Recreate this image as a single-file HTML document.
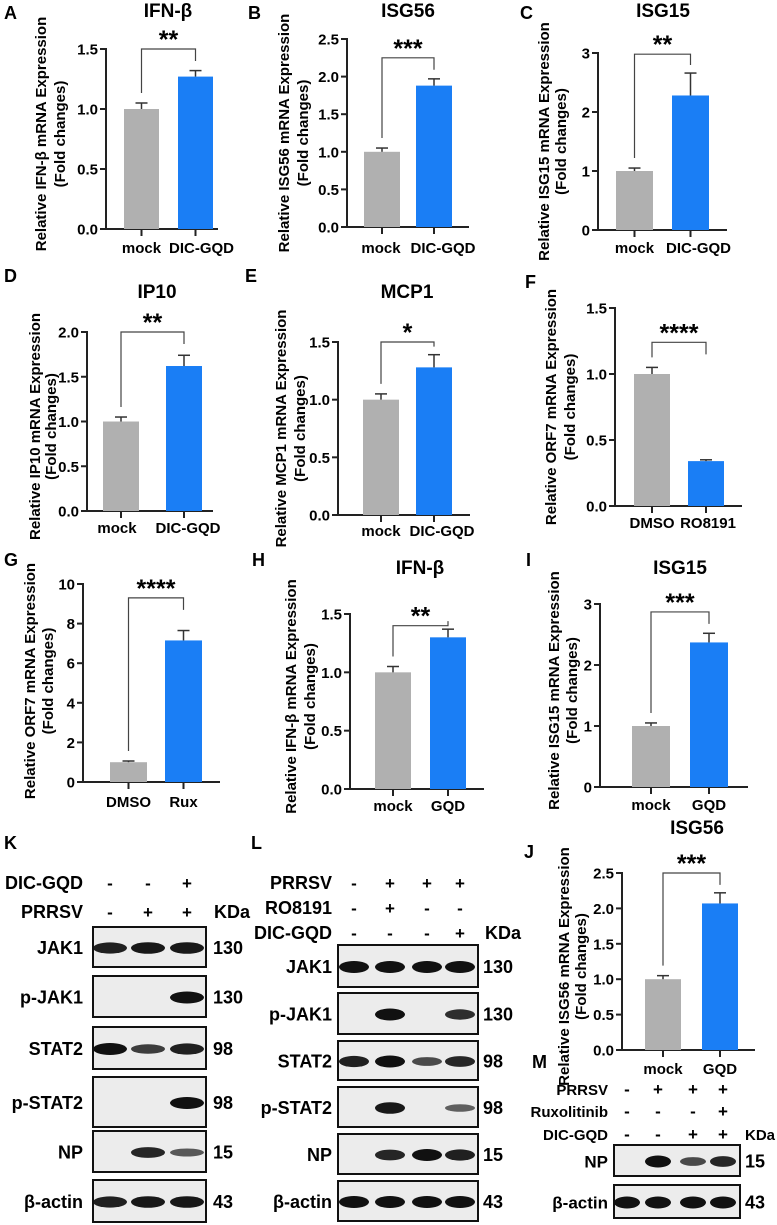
<!DOCTYPE html>
<html><head><meta charset="utf-8">
<style>
html,body{margin:0;padding:0;background:#fff;}
svg{display:block;font-family:"Liberation Sans",Arial,sans-serif;font-weight:bold;}
</style></head>
<body>
<svg id="fig" width="777" height="1225" viewBox="0 0 777 1225" xmlns="http://www.w3.org/2000/svg"></svg>
<script>
// ---- chart data ----
const catsA=["mock","DIC-GQD"]; const valsA=[1.0,1.27]; const errsA=[0.05,0.05]; const ticksA=["0.0","0.5","1.0","1.5"];
const catsB=["mock","DIC-GQD"]; const valsB=[1.0,1.88]; const errsB=[0.05,0.09]; const ticksB=["0.0","0.5","1.0","1.5","2.0","2.5"];
const catsC=["mock","DIC-GQD"]; const valsC=[1.0,2.28]; const errsC=[0.05,0.38]; const ticksC=["0","1","2","3"];
const catsD=["mock","DIC-GQD"]; const valsD=[1.0,1.62]; const errsD=[0.05,0.12]; const ticksD=["0.0","0.5","1.0","1.5","2.0"];
const catsE=["mock","DIC-GQD"]; const valsE=[1.0,1.28]; const errsE=[0.05,0.11]; const ticksE=["0.0","0.5","1.0","1.5"];
const catsF=["DMSO","RO8191"]; const valsF=[1.0,0.34]; const errsF=[0.05,0.01]; const ticksF=["0.0","0.5","1.0","1.5"];
const catsG=["DMSO","Rux"]; const valsG=[1.0,7.15]; const errsG=[0.06,0.5]; const ticksG=["0","2","4","6","8","10"];
const catsH=["mock","GQD"]; const valsH=[1.0,1.30]; const errsH=[0.05,0.07]; const ticksH=["0.0","0.5","1.0","1.5"];
const catsI=["mock","GQD"]; const valsI=[1.0,2.37]; const errsI=[0.05,0.15]; const ticksI=["0","1","2","3"];
const catsJ=["mock","GQD"]; const valsJ=[1.0,2.07]; const errsJ=[0.05,0.15]; const ticksJ=["0.0","0.5","1.0","1.5","2.0","2.5"];

const NS="http://www.w3.org/2000/svg";
const svg=document.getElementById('fig');
function el(tag,attrs,parent,text){const e=document.createElementNS(NS,tag);for(const k in attrs)e.setAttribute(k,attrs[k]);if(text!==undefined)e.textContent=text;(parent||svg).appendChild(e);return e;}

function chart(c,cats,vals,errs,ticks){
  const g=el('g',{});
  
  
  const max=parseFloat(ticks[ticks.length-1]);
  const y=v=>c.y0-(v/max)*(c.y0-c.yTop);
  const L=el('text',{x:c.lx,y:c.ly,'font-size':18},g,c.id);
  
  
  if(c.title){const t=el('text',{x:c.tx,y:c.ty,'font-size':19,'text-anchor':'middle'},g,c.title);
    
    }
  const cy=(c.y0+c.yTop)/2+c.ytOff;
  const yt=el('text',{x:0,y:0,'font-size':15,'text-anchor':'middle',transform:`translate(${c.yt1+4},${cy}) rotate(-90)`},g,c.ylab);
  
  
  const yt2=el('text',{x:0,y:0,'font-size':15,'text-anchor':'middle',transform:`translate(${c.yt2+3},${cy}) rotate(-90)`},g,'(Fold changes)');
  
  
  el('line',{x1:c.ax,y1:c.yTop-1,x2:c.ax,y2:c.y0,stroke:'#222','stroke-width':2},g);
  el('line',{x1:c.ax-1,y1:c.y0,x2:c.xEnd,y2:c.y0,stroke:'#222','stroke-width':2},g);
  ticks.forEach(t=>{const v=parseFloat(t);const yy=y(v);
    el('line',{x1:c.ax-6,y1:yy,x2:c.ax,y2:yy,stroke:'#222','stroke-width':2},g);
    const tl=el('text',{x:c.ax-8,y:yy+5.5,'font-size':15,'text-anchor':'end'},g,t);
    
    
  });
  const colors=['#b0b0b0','#1a7ef5'];
  const tops=[];
  cats.forEach((cat,i)=>{
    const bx=c.bars[i], w=c.bw, cx=bx+w/2;
    const r=el('rect',{x:bx,y:y(vals[i]),width:w,height:c.y0-y(vals[i]),fill:colors[i]},g);
    
    
    const et=y(vals[i]+errs[i]);
    el('line',{x1:cx,y1:y(vals[i]),x2:cx,y2:et,stroke:'#333','stroke-width':1.5},g);
    el('line',{x1:cx-6,y1:et,x2:cx+6,y2:et,stroke:'#333','stroke-width':1.5},g);
    tops.push(et);
    el('line',{x1:cx,y1:c.y0,x2:cx,y2:c.y0+7,stroke:'#222','stroke-width':2},g);
    const xl=el('text',{x:cx+(c.lxOff?c.lxOff[i]:0),y:c.xly,'font-size':15,'text-anchor':'middle'},g,cat);
    
    
  });
  const by=y(c.brk);
  const c0=c.bars[0]+c.bw/2, c1=c.bars[1]+c.bw/2;
  const br=el('path',{d:`M${c0},${tops[0]-10} V${by} H${c1} V${Math.min(tops[1]-8,by+12)}`,fill:'none',stroke:'#444','stroke-width':1.2},g);
  
  
  const st=el('text',{x:(c0+c1)/2,y:by-1,'font-size':25,'text-anchor':'middle'},g,c.stars);
  
  
}

chart({id:'A',lx:4,ly:19,title:'IFN-β',tx:168,ty:17,ylab:'Relative IFN-β mRNA Expression',yt1:42,yt2:62,ytOff:-5,ax:106,y0:229,yTop:49,xEnd:218,bars:[124,178],bw:35,xly:253,lxOff:[0,6],brk:1.5,stars:'**'},catsA,valsA,errsA,ticksA);
chart({id:'B',lx:248,ly:19,title:'ISG56',tx:408,ty:17,ylab:'Relative ISG56 mRNA Expression',yt1:285,yt2:305,ytOff:0,ax:347,y0:227,yTop:39,xEnd:469,bars:[364,416],bw:36,xly:253,lxOff:[-1,9],brk:2.25,stars:'***'},catsB,valsB,errsB,ticksB);
chart({id:'C',lx:520,ly:19,title:'ISG15',tx:663,ty:17,ylab:'Relative ISG15 mRNA Expression',yt1:545,yt2:563,ytOff:0,ax:598,y0:230,yTop:53,xEnd:727,bars:[616,672],bw:37,xly:253,lxOff:[0,8],brk:2.98,stars:'**'},catsC,valsC,errsC,ticksC);
chart({id:'D',lx:4,ly:282,title:'IP10',tx:157,ty:298,ylab:'Relative IP10 mRNA Expression',yt1:36,yt2:53,ytOff:5,ax:87,y0:511,yTop:332,xEnd:213,bars:[103,166],bw:36,xly:533,lxOff:[-4,4],brk:2.0,stars:'**'},catsD,valsD,errsD,ticksD);
chart({id:'E',lx:245,ly:282,title:'MCP1',tx:407,ty:298,ylab:'Relative MCP1 mRNA Expression',yt1:282,yt2:302,ytOff:0,ax:338,y0:515,yTop:342,xEnd:470,bars:[363,416],bw:36,xly:536,lxOff:[0,8],brk:1.5,stars:'*'},catsE,valsE,errsE,ticksE);
chart({id:'F',lx:525,ly:288,title:null,ylab:'Relative ORF7 mRNA Expression',yt1:552,yt2:572,ytOff:0,ax:615,y0:506,yTop:308,xEnd:742,bars:[634,688],bw:36,xly:528,lxOff:[0,2],brk:1.24,stars:'****'},catsF,valsF,errsF,ticksF);
chart({id:'G',lx:4,ly:566,title:null,ylab:'Relative ORF7 mRNA Expression',yt1:31,yt2:50,ytOff:-2,ax:83,y0:782,yTop:584,xEnd:220,bars:[110,165],bw:37,xly:807,brk:9.3,stars:'****'},catsG,valsG,errsG,ticksG);
chart({id:'H',lx:252,ly:566,title:'IFN-β',tx:420,ty:574,ylab:'Relative IFN-β mRNA Expression',yt1:292,yt2:312,ytOff:-5,ax:350,y0:789,yTop:614,xEnd:484,bars:[375,430],bw:36,xly:811,brk:1.4,stars:'**'},catsH,valsH,errsH,ticksH);
chart({id:'I',lx:526,ly:566,title:'ISG15',tx:680,ty:574,ylab:'Relative ISG15 mRNA Expression',yt1:555,yt2:574,ytOff:-5,ax:600,y0:787,yTop:604,xEnd:748,bars:[632,690],bw:38,xly:810,brk:2.87,stars:'***'},catsI,valsI,errsI,ticksI);
chart({id:'J',lx:524,ly:858,title:'ISG56',tx:697,ty:834,ylab:'Relative ISG56 mRNA Expression',yt1:565,yt2:583,ytOff:5,ax:622,y0:1050,yTop:873,xEnd:755,bars:[645,702],bw:36,xly:1074,brk:2.5,stars:'***'},catsJ,valsJ,errsJ,ticksJ);

// ---- western blots ----
const kProteins=["JAK1","p-JAK1","STAT2","p-STAT2","NP","β-actin"];
const kMW=["130","130","98","98","15","43"];
const kBands=[[0.9,0.95,0.95],[0,0,1],[1,0.7,0.9],[0,0,1],[0,0.85,0.5],[0.9,0.95,0.95]];
const lProteins=["JAK1","p-JAK1","STAT2","p-STAT2","NP","β-actin"];
const lMW=["130","130","98","98","15","43"];
const lBands=[[1,1,1,1],[0,1,0,0.8],[0.9,1,0.6,0.85],[0,0.95,0,0.45],[0,0.85,1,0.9],[1,1,1,1]];
const mProteins=["NP","β-actin"];
const mMW=["15","43"];
const mBands=[[0,1,0.6,0.85],[1,1,1,1]];

function blot(o,proteins,mw,bands){
  const g=el('g',{});
  
  
  const L=el('text',{x:o.lx,y:o.ly,'font-size':18},g,o.id);
  
  
  o.headers.forEach((h,i)=>{
    const t=el('text',{x:o.labR,y:h.y,'font-size':o.hfs||18,'text-anchor':'end'},g,h.name);
    
    
    h.signs.forEach((s,j)=>{el('text',{x:o.lanes[j],y:h.y,'font-size':17,'text-anchor':'middle'},g,s);});
  });
  const kd=el('text',{x:o.kdx,y:o.kdy,'font-size':o.hfs||18},g,'KDa');
  
  
  proteins.forEach((p,i)=>{
    const r=o.rows[i];
    const box=el('rect',{x:o.bx0,y:r[0],width:o.bx1-o.bx0,height:r[1]-r[0],fill:'#ececec',stroke:'#111','stroke-width':2},g);
    
    
    const cy=(r[0]+r[1])/2;
    const t=el('text',{x:o.labR,y:cy+7,'font-size':o.pfs||18,'text-anchor':'end'},g,p);
    
    
    const m=el('text',{x:o.mwx,y:cy+7,'font-size':18},g,mw[i]);
    
    
    bands[i].forEach((b,j)=>{ if(b>0){
      const e=el('ellipse',{cx:o.lanes[j],cy:cy+1,rx:o.rx,ry:2+4*b,fill:'#111','fill-opacity':0.35+0.65*b},g);
      
      
    }});
  });
}
blot({id:'K',lx:4,ly:849,labR:83,lanes:[110,148,187],kdx:214,kdy:918,mwx:213,bx0:93,bx1:206,rx:17,
  headers:[{name:'DIC-GQD',y:889,signs:['-','-','+']},{name:'PRRSV',y:918,signs:['-','+','+']}],
  rows:[[927,967],[976,1017],[1027,1069],[1077,1127],[1131,1172],[1180,1222]]},kProteins,kMW,kBands);
blot({id:'L',lx:251,ly:849,labR:332,lanes:[354,390,427,460],kdx:485,kdy:939,mwx:483,bx0:338,bx1:478,rx:15,
  headers:[{name:'PRRSV',y:889,signs:['-','+','+','+']},{name:'RO8191',y:914,signs:['-','+','-','-']},{name:'DIC-GQD',y:939,signs:['-','-','-','+']}],
  rows:[[945,987],[993,1034],[1041,1080],[1087,1127],[1134,1174],[1181,1221]]},lProteins,lMW,lBands);
blot({id:'M',lx:532,ly:1068,labR:608,lanes:[627,658,693,723],kdx:745,kdy:1140,mwx:745,bx0:614,bx1:740,rx:13,hfs:15,pfs:17,
  headers:[{name:'PRRSV',y:1095,signs:['-','+','+','+']},{name:'Ruxolitinib',y:1117,signs:['-','-','-','+']},{name:'DIC-GQD',y:1140,signs:['-','-','+','+']}],
  rows:[[1145,1176],[1185,1218]]},mProteins,mMW,mBands);
</script>
</body></html>
